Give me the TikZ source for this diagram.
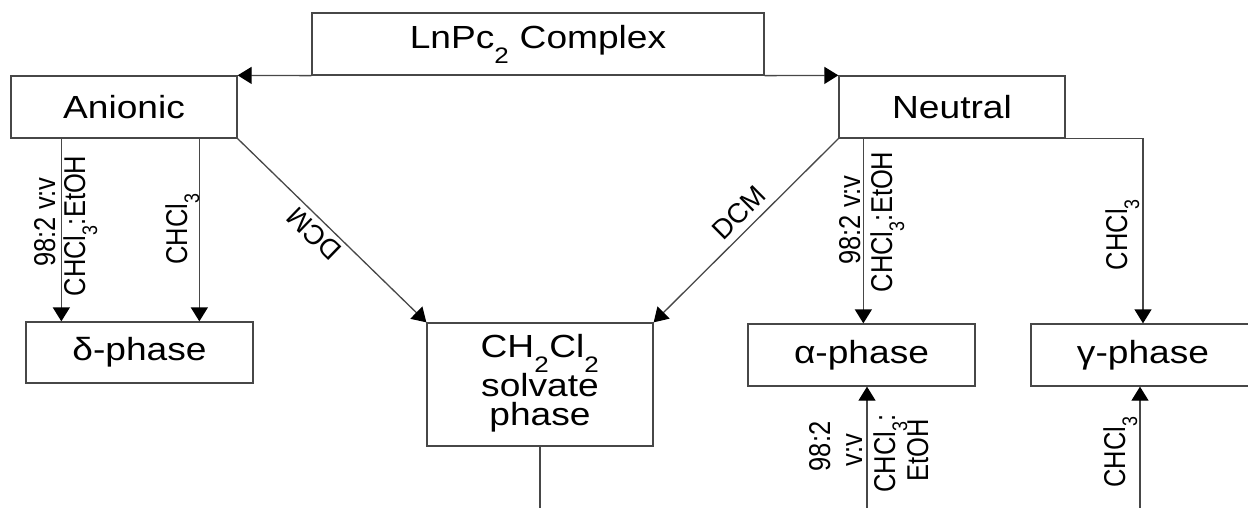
\documentclass[tikz,border=0pt]{standalone}
\usepackage{fontspec}
\setmainfont{Liberation Sans}
\usepackage{graphicx}
\usetikzlibrary{arrows.meta}
\newcommand{\hs}[1]{\scalebox{1.16}[1]{#1}}
\newcommand{\vs}[1]{\scalebox{1}[1.18]{#1}}
\newcommand{\sbs}[1]{\raisebox{-0.25em}{\textsubscript{#1}}}
\begin{document}
\begin{tikzpicture}[x=1pt,y=-1pt,
  box/.style={draw=black!72, line width=1.3pt, inner sep=0pt, font=\fontsize{32}{34}\selectfont},
  con/.style={draw=black!72, line width=1.3pt},
  arr/.style={con, -{Triangle[width=17pt,length=14pt,fill=black,color=black]}},
  lbl/.style={font=\fontsize{25.5}{28}\selectfont, inner sep=0pt, rotate=90, anchor=base},
  dcm/.style={font=\fontsize{25}{28}\selectfont, inner sep=0pt, anchor=center}
]
\useasboundingbox (0,0) rectangle (1248,508);
\clip (0,0) rectangle (1248,508);

% boxes
\node[box, minimum width=452pt, minimum height=62pt] (top) at (538,44) {\hs{LnPc\sbs{2} Complex}};
\node[box, minimum width=226pt, minimum height=62pt] (ani) at (124,107) {\hs{Anionic}};
\node[box, minimum width=226pt, minimum height=62pt] (neu) at (952,107) {\hs{Neutral}};
\node[box, minimum width=227pt, minimum height=61pt] (del) at (139.5,352.5) {\hs{δ-phase}};
\node[box, minimum width=226pt, minimum height=123pt] (ch) at (540,384.5)
  {\hs{\begin{tabular}{@{}c@{}}CH\sbs{2}Cl\sbs{2}\\[4pt] solvate\\[-5pt] phase\end{tabular}}};
\node[box, minimum width=227pt, minimum height=62pt] (alp) at (861.5,355) {\hs{α-phase}};
\node[box, minimum width=224pt, minimum height=62pt] (gam) at (1143,355) {\hs{γ-phase}};

% top arrows
\draw[arr] (top.south west) -- (ani.north east);
\draw[arr] (top.south east) -- (neu.north west);

% anionic branches
\coordinate (a1) at ([xshift=51pt]ani.south west);
\coordinate (a2) at ([xshift=189pt]ani.south west);
\draw[arr] (a1) -- (a1 |- del.north);
\draw[arr] (a2) -- (a2 |- del.north);
\draw[arr] (ani.south east) -- (ch.north west);

% neutral branches
\coordinate (n1) at ([xshift=25pt]neu.south west);
\draw[arr] (n1) -- (n1 |- alp.north);
\draw[arr] (neu.south west) -- (ch.north east);
\draw[arr] (neu.south east) -| (gam.north);

% bottom connectors
\coordinate (b1) at (867,508);
\coordinate (b2) at (1140,508);
\draw[arr] (b1) -- (b1 |- alp.south);
\draw[arr] (b2) -- (b2 |- gam.south);
\draw[con] (ch.south) -- (ch.south |- b1);

% labels
\node[lbl] (l1) at (55,222) {\vs{98:2 v:v}};
\node[lbl] (l2) at (85,226) {\vs{CHCl\sbs{3}:EtOH}};
\node[lbl] (l3) at (187,229) {\vs{CHCl\sbs{3}}};
\node[dcm, rotate=135.9] (l4) at (314,234) {\scalebox{1.1}{DCM}};
\node[dcm, rotate=44.8] (l5) at (739,213) {\scalebox{1.1}{DCM}};
\node[lbl] (l6) at (860,220) {\vs{98:2 v:v}};
\node[lbl] (l7) at (892,222) {\vs{CHCl\sbs{3}:EtOH}};
\node[lbl] (l8) at (1127,234.5) {\vs{CHCl\sbs{3}}};
\node[lbl] (l9) at (830,446.5) {\vs{98:2}};
\node[lbl] (l10) at (862,450) {\vs{v:v}};
\node[lbl] (l11) at (895,453.5) {\vs{CHCl\sbs{3}:}};
\node[lbl] (l12) at (928,450) {\vs{EtOH}};
\node[lbl] (l13) at (1125,452) {\vs{CHCl\sbs{3}}};
\end{tikzpicture}
\end{document}
